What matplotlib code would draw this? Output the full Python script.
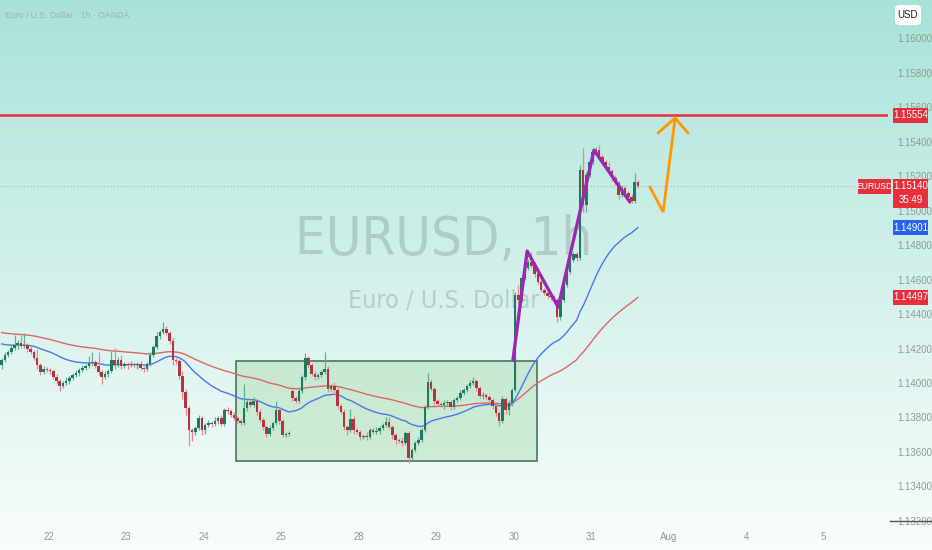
import numpy as np
import matplotlib
matplotlib.use("Agg")
import matplotlib.pyplot as plt
import matplotlib.transforms as mtransforms
from matplotlib.patches import Rectangle, FancyBboxPatch
from matplotlib.lines import Line2D

# hourly EURUSD closes (one per bar)
closes = [
    1.14133, 1.14162, 1.14180, 1.14203, 1.14220, 1.14232, 1.14215, 1.14220, 1.14197, 1.14180, 1.14145, 1.14104,
    1.14064, 1.14081, 1.14075, 1.14070, 1.14035, 1.14012, 1.13983, 1.14000, 1.14012, 1.14029, 1.14046, 1.14058,
    1.14075, 1.14087, 1.14099, 1.14116, 1.14122, 1.14099, 1.14064, 1.14035, 1.14052, 1.14070, 1.14133, 1.14104,
    1.14133, 1.14099, 1.14110, 1.14104, 1.14110, 1.14104, 1.14110, 1.14087, 1.14081, 1.14110, 1.14162, 1.14209,
    1.14273, 1.14296, 1.14313, 1.14290, 1.14244, 1.14133, 1.14128, 1.14041, 1.13948, 1.13855, 1.13727, 1.13716,
    1.13739, 1.13797, 1.13727, 1.13756, 1.13768, 1.13762, 1.13780, 1.13797, 1.13762, 1.13843, 1.13838, 1.13814,
    1.13797, 1.13780, 1.13768, 1.13855, 1.13890, 1.13872, 1.13896, 1.13832, 1.13785, 1.13745, 1.13704, 1.13739,
    1.13768, 1.13843, 1.13780, 1.13698, 1.13704, 1.13710, 1.13913, 1.13896, 1.13954, 1.14035, 1.14145, 1.14104,
    1.14052, 1.14035, 1.14046, 1.14064, 1.14081, 1.13965, 1.13983, 1.13959, 1.13867, 1.13832, 1.13745, 1.13727,
    1.13791, 1.13727, 1.13716, 1.13687, 1.13693, 1.13687, 1.13727, 1.13716, 1.13722, 1.13739, 1.13756, 1.13774,
    1.13745, 1.13698, 1.13669, 1.13664, 1.13652, 1.13710, 1.13565, 1.13611, 1.13652, 1.13669, 1.13727, 1.13861,
    1.14006, 1.13965, 1.13896, 1.13878, 1.13872, 1.13884, 1.13890, 1.13861, 1.13901, 1.13913, 1.13942, 1.13959,
    1.13983, 1.14000, 1.14012, 1.13971, 1.13925, 1.13930, 1.13919, 1.13901, 1.13867, 1.13826, 1.13780, 1.13907,
    1.13843, 1.13884, 1.13959, 1.14510, 1.14481, 1.14609, 1.14667, 1.14702, 1.14679, 1.14632, 1.14586, 1.14539,
    1.14522, 1.14505, 1.14499, 1.14481, 1.14383, 1.14481, 1.14568, 1.14644, 1.14713, 1.14748, 1.14725, 1.15235,
    1.15032, 1.15206, 1.15282, 1.15340, 1.15351, 1.15311, 1.15282, 1.15253, 1.15230, 1.15189, 1.15160, 1.15090,
    1.15131, 1.15102, 1.15079, 1.15056, 1.15166, 1.15140,
]
# wick sizes above / below the body, in pips
upper_wicks = [
    1, 2, 1, 2, 6, 2, 5, 7, 1, 2, 1, 5,
    1, 2, 1, 1, 1, 2, 1, 1, 2, 1, 1, 2,
    1, 2, 1, 4, 6, 1, 8, 1, 2, 1, 5, 7,
    2, 3, 1, 1, 2, 1, 1, 2, 1, 1, 2, 1,
    2, 1, 4, 2, 1, 2, 1, 1, 3, 2, 1, 1,
    1, 2, 1, 1, 2, 1, 2, 1, 2, 1, 2, 1,
    2, 1, 1, 14, 2, 1, 2, 1, 2, 1, 1, 2,
    1, 5, 2, 1, 1, 1, 1, 1, 2, 1, 3, 1,
    1, 2, 1, 1, 10, 2, 1, 2, 1, 1, 2, 1,
    6, 2, 1, 1, 1, 2, 1, 1, 2, 1, 1, 3,
    3, 1, 1, 1, 2, 1, 1, 1, 1, 2, 1, 1,
    5, 2, 1, 1, 1, 2, 1, 1, 1, 1, 2, 1,
    1, 2, 2, 1, 1, 2, 1, 1, 1, 1, 1, 2,
    1, 2, 1, 2, 6, 2, 1, 2, 6, 2, 1, 1,
    1, 2, 1, 1, 1, 2, 1, 1, 2, 1, 1, 3,
    13, 2, 2, 1, 2, 3, 2, 1, 3, 1, 2, 1,
    2, 1, 1, 2, 5, 1,
]
lower_wicks = [
    2, 1, 1, 1, 1, 2, 1, 1, 2, 1, 1, 2,
    2, 1, 1, 2, 1, 2, 3, 1, 1, 2, 1, 1,
    2, 1, 1, 1, 2, 1, 2, 4, 1, 2, 1, 2,
    1, 2, 1, 2, 1, 1, 2, 1, 2, 1, 1, 1,
    1, 2, 1, 1, 2, 3, 2, 2, 4, 4, 9, 5,
    2, 1, 3, 2, 1, 2, 1, 2, 1, 1, 2, 1,
    1, 2, 1, 1, 2, 1, 1, 2, 1, 2, 2, 1,
    1, 1, 2, 1, 1, 1, 2, 1, 1, 1, 2, 1,
    1, 2, 1, 1, 1, 2, 1, 2, 2, 1, 2, 3,
    1, 2, 1, 2, 1, 2, 1, 1, 1, 2, 1, 1,
    1, 2, 2, 1, 2, 1, 3, 1, 1, 1, 1, 1,
    1, 1, 2, 1, 1, 2, 1, 2, 1, 1, 1, 1,
    1, 1, 1, 2, 1, 2, 1, 1, 2, 2, 3, 1,
    2, 3, 2, 1, 2, 1, 1, 1, 1, 2, 1, 1,
    1, 1, 2, 1, 3, 2, 1, 1, 1, 1, 2, 1,
    4, 4, 1, 1, 1, 1, 2, 1, 1, 2, 1, 2,
    1, 1, 2, 1, 1, 1,
]
first_open = 1.14104
gap_bar, gap_open = 90, 1.13954

day_labels = ["22", "23", "24", "25", "28", "29", "30", "31", "Aug", "4", "5"]
day_starts = [15, 39, 63, 87, 111, 135, 159, 183, 207, 231, 255]
price_ticks = [1.132, 1.134, 1.136, 1.138, 1.140, 1.142, 1.144, 1.146,
               1.148, 1.150, 1.152, 1.154, 1.156, 1.158, 1.160]

resistance = 1.15554
fast_ma_period, fast_ma_seed = 35, 1.14232
slow_ma_period, slow_ma_seed = 90, 1.14296

box_bars = (72.6, 165.8)
box_prices = (1.13548, 1.14128)
zigzag_bars = [158.3, 162.7, 172.3, 183.4, 194.5]
zigzag_prices = [1.14133, 1.14765, 1.14440, 1.15351, 1.15050]
arrow_bars = [200.7, 204.8, 208.5]
arrow_prices = [1.15137, 1.14992, 1.15537]
arrow_head_bars = [203.2, 208.5, 212.5]
arrow_head_prices = [1.15450, 1.15537, 1.15450]


def ema(values, period, seed):
    alpha = 2.0 / (period + 1)
    level = seed
    out = []
    for v in values:
        level += alpha * (v - level)
        out.append(level)
    return np.array(out)


plt.rcParams['font.family'] = ['Liberation Sans', 'DejaVu Sans']

closes = np.array(closes)
opens = np.concatenate([[first_open], closes[:-1]])
opens[gap_bar] = gap_open
pip = 0.0001
highs = np.maximum(opens, closes) + np.array(upper_wicks) * pip
lows = np.minimum(opens, closes) - np.array(lower_wicks) * pip
idx = np.arange(len(closes))
up = closes >= opens
fast_ma = ema(closes, fast_ma_period, fast_ma_seed)
slow_ma = ema(closes, slow_ma_period, slow_ma_seed)

fig = plt.figure(figsize=(9.32, 5.5), dpi=100)

# background gradient
bg = fig.add_axes([0, 0, 1, 1], zorder=-10)
grad = np.linspace(0, 1, 256).reshape(-1, 1)
top = np.array([167, 226, 216]) / 255
bottom = np.array([249, 253, 252]) / 255
img = top + (bottom - top) * grad[..., None] ** 0.9
bg.imshow(img, aspect='auto', extent=[0, 1, 0, 1], origin='upper')
bg.axis('off')

ax = fig.add_axes([0, 28 / 550, 888 / 932, 522 / 550])
ax.set_facecolor('none')
for s in ax.spines.values():
    s.set_visible(False)
ax.set_xlim(-0.495, 274.4)
ax.set_ylim(1.131938, 1.162214)

# watermark
ax.text(0.5, 0.54, "EURUSD, 1h", transform=ax.transAxes, ha='center', va='center',
        fontsize=39, family=['DejaVu Sans'], fontstretch='condensed',
        color=(0.42, 0.5, 0.5), alpha=0.3, zorder=0)
ax.text(0.5, 0.425, "Euro / U.S. Dollar", transform=ax.transAxes, ha='center', va='center',
        fontsize=18, family=['DejaVu Sans'], fontstretch='condensed',
        color=(0.42, 0.5, 0.5), alpha=0.3, zorder=0)

# consolidation box
ax.add_patch(Rectangle((box_bars[0], box_prices[0]), box_bars[1] - box_bars[0],
                       box_prices[1] - box_prices[0], facecolor='#a9dcae', alpha=0.45,
                       edgecolor='none', zorder=1))
ax.add_patch(Rectangle((box_bars[0], box_prices[0]), box_bars[1] - box_bars[0],
                       box_prices[1] - box_prices[0], facecolor='none',
                       edgecolor='#3f6a50', lw=1.1, zorder=1.1))

# moving averages
ax.plot(idx, slow_ma, color='#e06468', lw=1.0, zorder=2)
ax.plot(idx, fast_ma, color='#4a78e6', lw=1.0, zorder=2)

# candles
wick_col = np.where(up, '#62b094', '#e98a8a')
body_col = np.where(up, '#1c7a62', '#b3343c')
ax.vlines(idx, lows, highs, colors=wick_col, lw=0.9, zorder=3)
body_h = np.maximum(np.abs(closes - opens), 0.00003)
ax.bar(idx, body_h, bottom=np.minimum(opens, closes), width=0.78, color=body_col,
       edgecolor='none', zorder=4)

# levels
ax.axhline(resistance, color='#eb2f3b', lw=1.8, zorder=5)
ax.axhline(closes[-1], color='#d9a0a0', lw=0.8, ls=(0, (1, 2)), zorder=1.5)

# drawings
ax.plot(zigzag_bars, zigzag_prices, color='#9c27b0', lw=2.4, solid_capstyle='round', zorder=6)
ax.plot(arrow_bars, arrow_prices, color='#ff9800', lw=2.0, solid_capstyle='round',
        solid_joinstyle='miter', zorder=6)
ax.plot(arrow_head_bars, arrow_head_prices, color='#ff9800', lw=2.0, solid_capstyle='round', zorder=6)

# axes ticks
ax.yaxis.tick_right()
ax.set_yticks(price_ticks)
ax.set_yticklabels([f"{p:.5f}" for p in price_ticks])
ax.tick_params(axis='y', length=0, pad=7, labelsize=7, labelcolor='#8c9c99')
ax.set_xticks([d - 0.5 for d in day_starts])
ax.set_xticklabels(day_labels)
ax.tick_params(axis='x', length=0, pad=7, labelsize=7, labelcolor='#8c9c99')

# price labels on the scale
blend = mtransforms.blended_transform_factory(ax.transAxes, ax.transData)
px = (ax.get_ylim()[1] - ax.get_ylim()[0]) / 522.0
ax_w = 888.0


def scale_label(price, text, color, h=15, x0=893, x1=928, y_off=0, size=7):
    ax.add_patch(Rectangle((x0 / ax_w, price - (h / 2 + y_off) * px), (x1 - x0) / ax_w, h * px,
                           transform=blend, facecolor=color, edgecolor='none',
                           clip_on=False, zorder=7))
    ax.text((x0 + x1) / 2 / ax_w, price - y_off * px, text, transform=blend, ha='center',
            va='center', fontsize=size, color='white', clip_on=False, zorder=8)


scale_label(resistance, f"{resistance:.5f}", '#e8303c')
scale_label(closes[-1], "", '#e8303c', h=29, y_off=7)
ax.text((893 + 928) / 2 / ax_w, closes[-1], f"{closes[-1]:.5f}", transform=blend, ha='center',
        va='center', fontsize=7, color='white', clip_on=False, zorder=8)
ax.text((893 + 928) / 2 / ax_w, closes[-1] - 14 * px, "35:49", transform=blend, ha='center',
        va='center', fontsize=7, color='white', clip_on=False, zorder=8)
scale_label(closes[-1], "EURUSD", '#e8303c', x0=858, x1=891, size=6.2)
scale_label(fast_ma[-1], f"{fast_ma[-1]:.5f}", '#2a62f0')
scale_label(slow_ma[-1], f"{slow_ma[-1]:.5f}", '#e8303c')

# currency box and title
fig.add_artist(FancyBboxPatch((895 / 932, 1 - 25 / 550), 26 / 932, 20 / 550,
                              boxstyle='round,pad=0,rounding_size=0.006',
                              transform=fig.transFigure, facecolor='white', edgecolor='none'))
fig.text(908 / 932, 1 - 15 / 550, "USD", ha='center', va='center', fontsize=7, color='#222222')
fig.text(5 / 932, 1 - 15 / 550, "Euro / U.S. Dollar · 1h · OANDA", ha='left', va='center',
         fontsize=6.3, color='#9bb3ae')
fig.add_artist(Line2D([890 / 932, 1], [29 / 550, 29 / 550], transform=fig.transFigure,
                      color='#555555', lw=1.0))

fig.savefig("out.png", dpi=100)
